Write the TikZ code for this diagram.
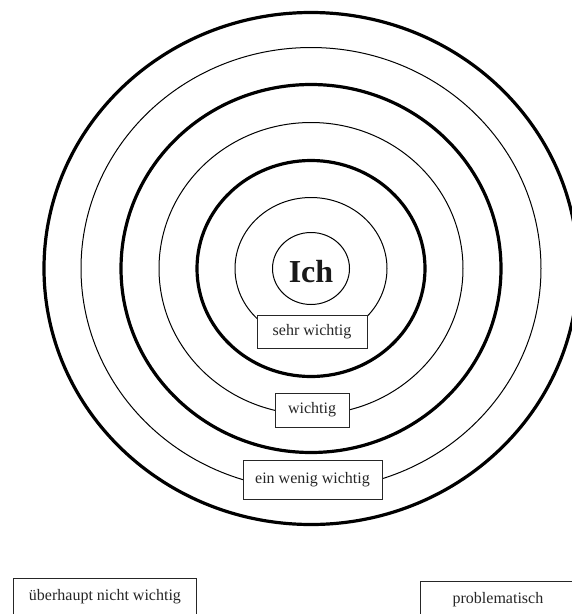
\documentclass[tikz,border=0pt]{standalone}
\usepackage{fontspec}
\setmainfont{Liberation Serif}
\begin{document}
\begin{tikzpicture}[x=1pt,y=-1pt,
  thinring/.style={line width=1pt},
  thickring/.style={line width=3.2pt},
  labelbox/.style={draw=black!85, line width=0.9pt, fill=white, inner sep=0pt,
    font=\fontsize{16}{19}\selectfont, text=black!85}]
\useasboundingbox (0,0) rectangle (572,614);
\clip (0,0) rectangle (572,614);
\coordinate (c) at (311,268.5);
% rings
\draw[thickring] (c) ellipse [x radius=267, y radius=256];
\draw[thinring]  (c) ellipse [x radius=230, y radius=221];
\draw[thickring] (c) ellipse [x radius=190, y radius=184];
\draw[thinring]  (c) ellipse [x radius=152, y radius=146];
\draw[thickring] (c) ellipse [x radius=114, y radius=108];
\draw[thinring]  (c) ellipse [x radius=76, y radius=71];
\draw[thinring]  (c) ellipse [x radius=38.5, y radius=36];
% centre label
\node[font=\fontsize{32}{36}\selectfont\bfseries, text=black!90, anchor=base] (ich) at (311,282) {Ich};
% ring labels
\node[labelbox, minimum width=110pt, minimum height=33pt] (sehr) at (312,331.5) {sehr wichtig};
\node[labelbox, minimum width=74pt, minimum height=34pt] (wichtig) at (312,410) {wichtig};
\node[labelbox, minimum width=139pt, minimum height=39pt] (wenig) at (312.5,479.5) {ein wenig wichtig};
% legend boxes
\node[labelbox, anchor=north west, minimum width=183pt, inner ysep=0pt,
  text height=22pt, text depth=30pt] (gar) at (13,578) {überhaupt nicht wichtig};
\node[labelbox, anchor=north west, minimum width=155pt, inner ysep=0pt,
  text height=22pt, text depth=30pt] (prob) at (420,581) {problematisch};
\end{tikzpicture}
\end{document}
